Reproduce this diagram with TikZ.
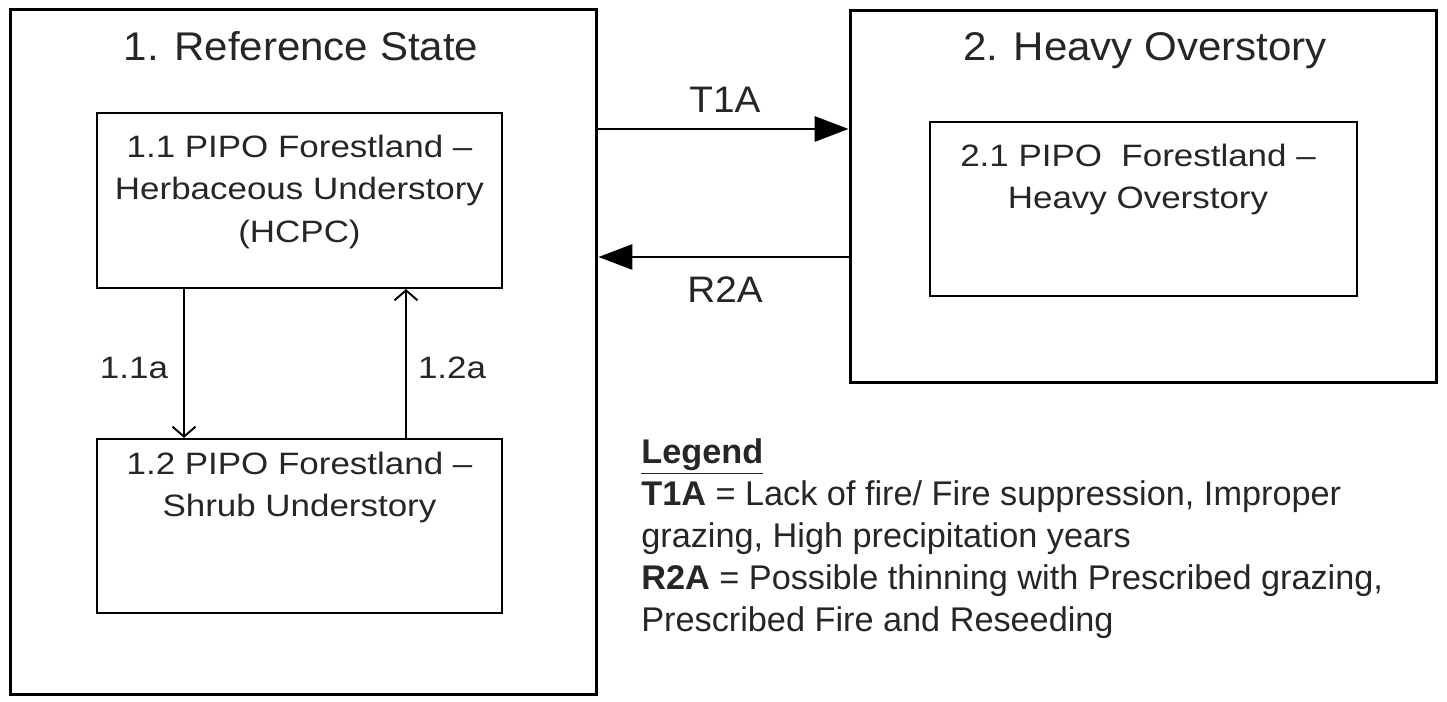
\documentclass[tikz,border=0pt]{standalone}
\usepackage{fontspec}
\setmainfont{Liberation Sans}
\newfontfamily\titlefont[FakeStretch=1.05]{Liberation Sans}
\newfontfamily\boxfont[FakeStretch=1.13]{Liberation Sans}
\newfontfamily\legendfont{Liberation Sans}
\newcommand\legendskip{\lineskiplimit=-20pt\relax}
\usetikzlibrary{arrows.meta,positioning}
\tikzset{
statebox/.style={draw,line width=1.7pt,inner sep=0pt},
phasebox/.style={draw,line width=1.2pt,inner sep=0pt},
statetitle/.style={anchor=base,inner sep=0pt,text=black!85,
font=\titlefont\fontsize{22.8pt}{27pt}\selectfont},
phasetext/.style={anchor=north,inner sep=0pt,align=center,text=black!85,
font=\boxfont\fontsize{17.6pt}{24pt}\selectfont},
translabel/.style={anchor=base,inner sep=0pt,text=black!85,
font=\titlefont\fontsize{21pt}{25pt}\selectfont},
pathlabel/.style={anchor=base,inner sep=0pt,text=black!85,
font=\boxfont\fontsize{17.6pt}{24.5pt}\selectfont},
legendtext/.style={anchor=north west,inner sep=0pt,align=left,text=black!85,
font=\legendfont\fontsize{19.5pt}{24pt}\selectfont\legendskip},
trans/.style={line width=1.7pt,-{Triangle[length=0.68cm,width=0.5cm]}},
pathway/.style={line width=1.1pt,-{Straight Barb[length=0.2cm,width=0.46cm]}},
}
\begin{document}
\begin{tikzpicture}[x=0.02cm,y=-0.02cm]
\useasboundingbox (0,0) rectangle (1447,702);
% state 1
\node[statebox,minimum width=11.74cm,minimum height=13.72cm] (ref) at (303.5,352) {};
\node[statetitle] (reftitle) at (301,61) {1. Reference State};
\node[phasebox,minimum width=8.1cm,minimum height=3.5cm] (hcpc) at (299.5,200.5) {};
\node[phasetext] (hcpctext) at (299.5,135) {1.1 PIPO Forestland –\\Herbaceous Understory\\(HCPC)};
\node[phasebox,minimum width=8.1cm,minimum height=3.48cm] (shrub) at (299.5,526) {};
\node[phasetext] (shrubtext) at (299.5,452) {1.2 PIPO Forestland –\\Shrub Understory};
% state 2
\node[statebox,minimum width=11.74cm,minimum height=7.46cm] (heavy) at (1143.5,196.5) {};
\node[statetitle] (heavytitle) at (1145,61) {2. Heavy Overstory};
\node[phasebox,minimum width=8.54cm,minimum height=3.48cm] (over) at (1143.5,209) {};
\node[phasetext] (overtext) at (1138,144) {2.1 PIPO\ \ Forestland –\\Heavy Overstory};
% transitions
\draw[trans] (ref.east |- 0,129) -- (heavy.west |- 0,129);
\draw[trans] (heavy.west |- 0,257) -- (ref.east |- 0,257);
\node[translabel] (t1a) at (725,113) {T1A};
\node[translabel] (r2a) at (725,303) {R2A};
% community pathways
\draw[pathway] (hcpc.south -| 184,0) -- (shrub.north -| 184,0);
\draw[pathway] (shrub.north -| 406,0) -- (hcpc.south -| 406,0);
\node[pathlabel] (p11a) at (134,378) {1.1a};
\node[pathlabel] (p12a) at (452,378) {1.2a};
% legend
\node[legendtext] (legend) at (641,438)
{\textbf{\underline{Legend}}\\
\textbf{T1A} = Lack of fire/ Fire suppression, Improper\\
grazing, High precipitation years\\
\textbf{R2A} = Possible thinning with Prescribed grazing,\\
Prescribed Fire and Reseeding};
\end{tikzpicture}
\end{document}
